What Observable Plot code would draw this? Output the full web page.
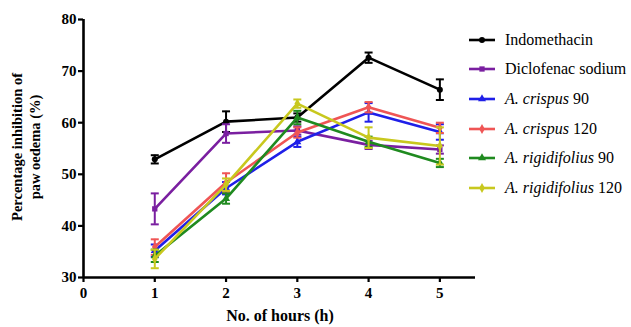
<!DOCTYPE html>
<html>
<head>
<meta charset="utf-8">
<script src="https://cdn.jsdelivr.net/npm/d3@7"></script>
<script src="https://cdn.jsdelivr.net/npm/@observablehq/plot@0.6"></script>
<style>
  body { margin: 0; background: #fff; }
  #wrap { position: relative; width: 631px; height: 327px; font-family: "Times New Roman", "Liberation Serif", "DejaVu Serif", serif; }
  #ylab { position: absolute; left: 26px; top: 147px; transform: translate(-50%, -50%) rotate(-90deg); white-space: nowrap; text-align: center; font-weight: bold; font-size: 14.5px; line-height: 18px; color: #000; }
  #xlab { position: absolute; left: 280px; top: 307px; transform: translateX(-50%); white-space: nowrap; font-weight: bold; font-size: 16px; color: #000; }
  #legend { position: absolute; left: 468px; top: 25px; font-size: 16px; color: #000; font-weight: normal; }
  .row { display: flex; align-items: center; height: 29.6px; }
  .row svg { margin-right: 9px; }
</style>
</head>
<body>
<div id="wrap">
  <div id="chart"></div>
  <div id="ylab">Percentage inhibition of<br>paw oedema (%)</div>
  <div id="xlab">No. of hours (h)</div>
  <div id="legend"></div>
</div>
<script>
const hours = [1, 2, 3, 4, 5];
const seriesNames = ["Indomethacin", "Diclofenac sodium", "A. crispus 90", "A. crispus 120", "A. rigidifolius 90", "A. rigidifolius 120"];
const legendItalic = ["", "", "A. crispus", "A. crispus", "A. rigidifolius", "A. rigidifolius"];
const legendRest = ["Indomethacin", "Diclofenac sodium", " 90", " 120", " 90", " 120"];
const colors = ["#000000", "#7a1fa0", "#1f1fe8", "#ef5555", "#1f8a1f", "#c8c81e"];
const symbols = ["circle", "square", "triangle", "diamond", "triangle", "diamond"];

const indomethacin    = [52.9, 60.2, 61.0, 72.6, 66.4];
const diclofenac      = [43.3, 57.9, 58.5, 55.7, 54.8];
const crispus90       = [35.2, 47.3, 56.3, 62.0, 58.2];
const crispus120      = [35.9, 48.4, 58.1, 63.0, 59.0];
const rigid90         = [34.2, 45.3, 61.0, 56.3, 52.2];
const rigid120        = [33.6, 48.0, 63.7, 57.1, 55.5];

const errIndo     = [0.8, 2.0, 0.8, 1.0, 2.0];
const errDiclo    = [3.0, 1.8, 0.8, 0.8, 0.8];
const errCrispus90  = [1.2, 1.2, 1.0, 1.8, 1.5];
const errCrispus120 = [1.5, 1.8, 1.0, 1.0, 1.0];
const errRigid90    = [1.2, 1.0, 1.3, 1.0, 0.8];
const errRigid120   = [1.8, 1.2, 0.8, 2.0, 3.6];

const yTicks = [30, 40, 50, 60, 70, 80];
const xTicks = [0, 1, 2, 3, 4, 5];

const allValues = [indomethacin, diclofenac, crispus90, crispus120, rigid90, rigid120];
const allErrors = [errIndo, errDiclo, errCrispus90, errCrispus120, errRigid90, errRigid120];

const data = [];
seriesNames.forEach((s, i) => {
  hours.forEach((h, j) => {
    data.push({series: s, idx: i, h, v: allValues[i][j], lo: allValues[i][j] - allErrors[i][j], hi: allValues[i][j] + allErrors[i][j]});
  });
});

// horizontal line symbol for error-bar caps
const capSymbol = { draw(ctx, size) { const w = 4; ctx.moveTo(-w, 0); ctx.lineTo(w, 0); } };

const marks = [];
seriesNames.forEach((s, i) => {
  const d = data.filter(r => r.idx === i);
  const c = colors[i];
  marks.push(Plot.ruleX(d, {x: "h", y1: "lo", y2: "hi", stroke: c, strokeWidth: 2}));
  marks.push(Plot.dot(d, {x: "h", y: "lo", symbol: capSymbol, stroke: c, strokeWidth: 2, r: 3}));
  marks.push(Plot.dot(d, {x: "h", y: "hi", symbol: capSymbol, stroke: c, strokeWidth: 2, r: 3}));
  marks.push(Plot.line(d, {x: "h", y: "v", stroke: c, strokeWidth: 2.6}));
  marks.push(Plot.dot(d, {x: "h", y: "v", fill: c, symbol: symbols[i], r: 3}));
});

const serif = "'Times New Roman', 'Liberation Serif', serif";
const chart = Plot.plot({
  width: 631,
  height: 327,
  marginLeft: 83,
  marginRight: 156,
  marginTop: 19,
  marginBottom: 50,
  style: {fontFamily: serif, fontSize: "15px", fontWeight: "bold", color: "#000", background: "#fff"},
  x: {domain: [0, 5.5]},
  y: {domain: [30, 80]},
  marks: [
    ...marks,
    Plot.axisX({ticks: xTicks, tickFormat: d3.format("d"), tickSize: 5, tickPadding: 5, label: null, strokeWidth: 2.2, fontSize: 15, fontWeight: "bold", fontFamily: serif}),
    Plot.axisY({ticks: yTicks, tickFormat: d3.format("d"), tickSize: 5, tickPadding: 2, label: null, strokeWidth: 2.2, fontSize: 15, fontWeight: "bold", fontFamily: serif}),
    Plot.ruleY([30], {stroke: "#000", strokeWidth: 2.6}),
    Plot.ruleX([0], {stroke: "#000", strokeWidth: 2.6})
  ]
});
document.getElementById("chart").appendChild(chart);

// legend
const legend = document.getElementById("legend");
const symPaths = {circle: d3.symbolCircle, square: d3.symbolSquare, triangle: d3.symbolTriangle, diamond: d3.symbolDiamond};
seriesNames.forEach((s, i) => {
  const row = document.createElement("div");
  row.className = "row";
  const ns = "http://www.w3.org/2000/svg";
  const svg = document.createElementNS(ns, "svg");
  svg.setAttribute("width", 28); svg.setAttribute("height", 10);
  const ln = document.createElementNS(ns, "line");
  ln.setAttribute("x1", 1); ln.setAttribute("x2", 27); ln.setAttribute("y1", 5); ln.setAttribute("y2", 5);
  ln.setAttribute("stroke", colors[i]); ln.setAttribute("stroke-width", 2.6);
  svg.appendChild(ln);
  const p = document.createElementNS(ns, "path");
  p.setAttribute("d", d3.symbol(symPaths[symbols[i]], 28)());
  p.setAttribute("transform", "translate(14,5)");
  p.setAttribute("fill", colors[i]);
  svg.appendChild(p);
  row.appendChild(svg);
  const t = document.createElement("span");
  if (legendItalic[i]) {
    const it = document.createElement("i");
    it.textContent = legendItalic[i];
    t.appendChild(it);
  }
  t.appendChild(document.createTextNode(legendRest[i]));
  row.appendChild(t);
  legend.appendChild(row);
});
</script>
</body>
</html>
